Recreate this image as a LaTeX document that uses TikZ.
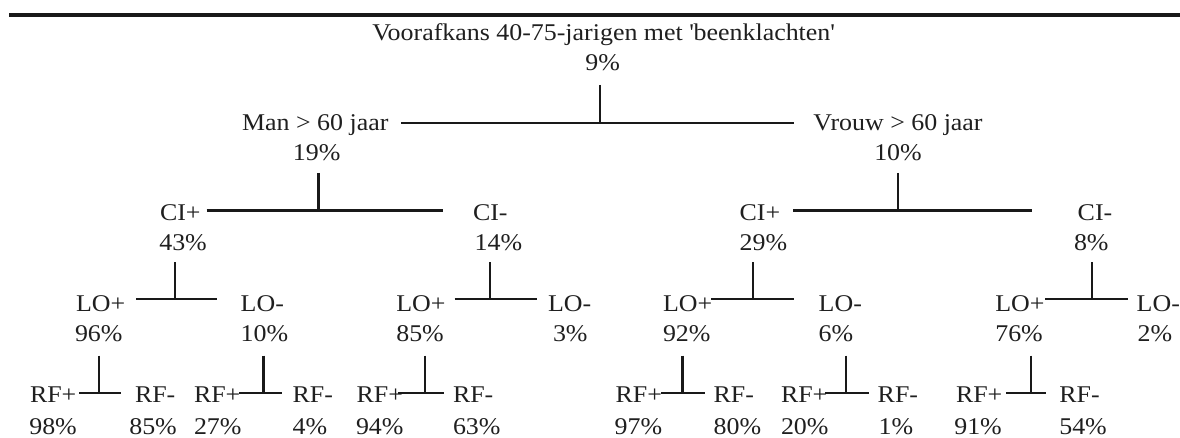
\documentclass[tikz,border=0pt]{standalone}
\usepackage{fontspec}
\setmainfont{Liberation Serif}[FakeStretch=1.08]
\begin{document}
\begin{tikzpicture}[x=1pt,y=-1pt,
  lbl/.style={inner sep=0pt,outer sep=0pt,text depth=0pt,anchor=base west,
              font=\fontsize{24}{24}\selectfont,text=black!88},
  lblc/.style={lbl,anchor=base},
  edge/.style={line width=2.4pt,draw=black!90}]
\useasboundingbox (0,0) rectangle (1180,438);

% heavy rule across the top
\fill[black!90] (9,13.3) rectangle (1180,16.7);

% ---- level 1
\node[lblc] (root)  at (603.5,40.7) {Voorafkans 40-75-jarigen met \textquotesingle beenklachten\textquotesingle};
\node[lblc] (rootp) at (602.7,70.7) {9\%};

% ---- level 2
\node[lblc] (man)    at (315.3,130.5) {Man > 60 jaar};
\node[lblc] (manp)   at (316.7,161)   {19\%};
\node[lblc] (vrouw)  at (898,130.5)   {Vrouw > 60 jaar};
\node[lblc] (vrouwp) at (898,161)     {10\%};

% ---- level 3
\node[lbl] (ci1)  at (160,221)     {CI+};
\node[lbl] (ci1p) at (159.3,250.7) {43\%};
\node[lbl] (ci2)  at (473,221)     {CI-};
\node[lbl] (ci2p) at (474.7,250.7) {14\%};
\node[lbl] (ci3)  at (739.7,221)   {CI+};
\node[lbl] (ci3p) at (739.7,250.7) {29\%};
\node[lbl] (ci4)  at (1077.7,221)  {CI-};
\node[lbl] (ci4p) at (1074,250.7)  {8\%};

% ---- level 4
\node[lbl] (lo1)  at (76,311.5)     {LO+};
\node[lbl] (lo1p) at (75,341.7)     {96\%};
\node[lbl] (lo2)  at (240.7,311.5)  {LO-};
\node[lbl] (lo2p) at (240.7,341.7)  {10\%};
\node[lbl] (lo3)  at (396.3,311.5)  {LO+};
\node[lbl] (lo3p) at (396.3,341.7)  {85\%};
\node[lbl] (lo4)  at (548,311.5)    {LO-};
\node[lbl] (lo4p) at (553,341.7)    {3\%};
\node[lbl] (lo5)  at (663,311.5)    {LO+};
\node[lbl] (lo5p) at (663,341.7)    {92\%};
\node[lbl] (lo6)  at (818.7,311.5)  {LO-};
\node[lbl] (lo6p) at (818.7,341.7)  {6\%};
\node[lbl] (lo7)  at (995.3,311.5)  {LO+};
\node[lbl] (lo7p) at (995.3,341.7)  {76\%};
\node[lbl] (lo8)  at (1136.7,311.5) {LO-};
\node[lbl] (lo8p) at (1137.7,341.7) {2\%};

% ---- level 5
\node[lbl] (rf1)   at (30,402.5)    {RF+};
\node[lbl] (rf1p)  at (29.3,434.3)  {98\%};
\node[lbl] (rf2)   at (135,402.5)   {RF-};
\node[lbl] (rf2p)  at (129.3,434.3) {85\%};
\node[lbl] (rf3)   at (194,402.5)   {RF+};
\node[lbl] (rf3p)  at (194,434.3)   {27\%};
\node[lbl] (rf4)   at (292.7,402.5) {RF-};
\node[lbl] (rf4p)  at (292.7,434.3) {4\%};
\node[lbl] (rf5)   at (356.7,402.5) {RF+};
\node[lbl] (rf5p)  at (356,434.3)   {94\%};
\node[lbl] (rf6)   at (453,402.5)   {RF-};
\node[lbl] (rf6p)  at (453,434.3)   {63\%};
\node[lbl] (rf7)   at (615.7,402.5) {RF+};
\node[lbl] (rf7p)  at (614.7,434.3) {97\%};
\node[lbl] (rf8)   at (713.7,402.5) {RF-};
\node[lbl] (rf8p)  at (713.7,434.3) {80\%};
\node[lbl] (rf9)   at (781,402.5)   {RF+};
\node[lbl] (rf9p)  at (781,434.3)   {20\%};
\node[lbl] (rf10)  at (877.7,402.5) {RF-};
\node[lbl] (rf10p) at (878.7,434.3) {1\%};
\node[lbl] (rf11)  at (956,402.5)   {RF+};
\node[lbl] (rf11p) at (954.3,434.3) {91\%};
\node[lbl] (rf12)  at (1059.3,402.5){RF-};
\node[lbl] (rf12p) at (1059.3,434.3){54\%};

% ---- junctions and bar ends
\coordinate (j0)  at (600,123.3);   \coordinate (b0l)  at (401,123.3);   \coordinate (b0r)  at (794,123.3);
\coordinate (jm)  at (318.3,210.7); \coordinate (bml)  at (206.7,210.7); \coordinate (bmr)  at (443,210.7);
\coordinate (jv)  at (897.7,210.7); \coordinate (bvl)  at (793,210.7);   \coordinate (bvr)  at (1032,210.7);
\coordinate (jc1) at (175,299);     \coordinate (bc1l) at (136,299);     \coordinate (bc1r) at (217.3,299);
\coordinate (jc2) at (489.7,299);   \coordinate (bc2l) at (454.7,299);   \coordinate (bc2r) at (537,299);
\coordinate (jc3) at (753,299);     \coordinate (bc3l) at (711.3,299);   \coordinate (bc3r) at (794.3,299);
\coordinate (jc4) at (1092,299);    \coordinate (bc4l) at (1045.3,299);  \coordinate (bc4r) at (1127.7,299);
\coordinate (jl1) at (99,393);      \coordinate (bl1l) at (79.3,393);    \coordinate (bl1r) at (120.7,393);
\coordinate (jl2) at (263.3,393);   \coordinate (bl2l) at (239.3,393);   \coordinate (bl2r) at (281.7,393);
\coordinate (jl3) at (424.7,393);   \coordinate (bl3l) at (398,393);     \coordinate (bl3r) at (443.7,393);
\coordinate (jl5) at (682.3,393);   \coordinate (bl5l) at (661.3,393);   \coordinate (bl5r) at (704.7,393);
\coordinate (jl6) at (846,393);     \coordinate (bl6l) at (825.3,393);   \coordinate (bl6r) at (868.7,393);
\coordinate (jl7) at (1031,393);    \coordinate (bl7l) at (1006,393);    \coordinate (bl7r) at (1046,393);

% ---- split connectors: stem from parent down to the bar, bar between the children
\draw[edge] ([yshift=-14.3pt]rootp.south -| j0) -- (j0);   \draw[edge] (b0l) -- (b0r);
\draw[edge] ([yshift=-12pt]manp.south -| jm) -- (jm);      \draw[edge] (bml) -- (bmr);
\draw[edge] ([yshift=-12pt]vrouwp.south -| jv) -- (jv);    \draw[edge] (bvl) -- (bvr);
\draw[edge] ([yshift=-11.6pt]ci1p.south -| jc1) -- (jc1);  \draw[edge] (bc1l) -- (bc1r);
\draw[edge] ([yshift=-11.6pt]ci2p.south -| jc2) -- (jc2);  \draw[edge] (bc2l) -- (bc2r);
\draw[edge] ([yshift=-11.6pt]ci3p.south -| jc3) -- (jc3);  \draw[edge] (bc3l) -- (bc3r);
\draw[edge] ([yshift=-11.6pt]ci4p.south -| jc4) -- (jc4);  \draw[edge] (bc4l) -- (bc4r);
\draw[edge] ([yshift=-14pt]lo1p.south -| jl1) -- (jl1);    \draw[edge] (bl1l) -- (bl1r);
\draw[edge] ([yshift=-14pt]lo2p.south -| jl2) -- (jl2);    \draw[edge] (bl2l) -- (bl2r);
\draw[edge] ([yshift=-14pt]lo3p.south -| jl3) -- (jl3);    \draw[edge] (bl3l) -- (bl3r);
\draw[edge] ([yshift=-14pt]lo5p.south -| jl5) -- (jl5);    \draw[edge] (bl5l) -- (bl5r);
\draw[edge] ([yshift=-14pt]lo6p.south -| jl6) -- (jl6);    \draw[edge] (bl6l) -- (bl6r);
\draw[edge] ([yshift=-14pt]lo7p.south -| jl7) -- (jl7);    \draw[edge] (bl7l) -- (bl7r);
\end{tikzpicture}
\end{document}
